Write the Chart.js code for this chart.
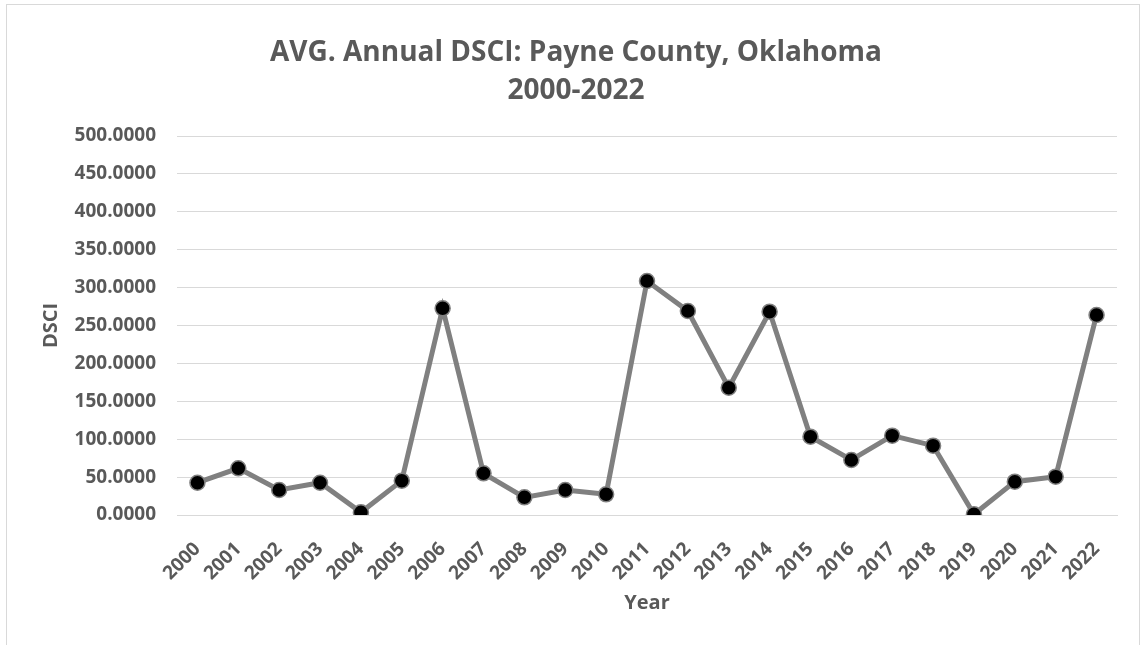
<!DOCTYPE html>
<html>
<head>
<meta charset="utf-8">
<script src="https://cdn.jsdelivr.net/npm/chart.js@4/dist/chart.umd.min.js"></script>
<style>
  html, body { margin: 0; padding: 0; background: #fff; }
  body { width: 1146px; height: 645px; position: relative; overflow: hidden; }
  #frame { position: absolute; left: 6px; top: 4px; width: 1134px; height: 700px; border: 1px solid #d9d9d9; box-sizing: border-box; }
  #wrap { position: absolute; left: 0; top: 0; width: 1146px; height: 645px; }
</style>
</head>
<body>
<div id="frame"></div>
<div id="wrap"><canvas id="c" width="1146" height="645"></canvas></div>
<script>
// Average annual Drought Severity and Coverage Index, Payne County, OK
const years = ['2000','2001','2002','2003','2004','2005','2006','2007','2008','2009','2010','2011',
               '2012','2013','2014','2015','2016','2017','2018','2019','2020','2021','2022'];
const dsci = [42.6, 61.6, 33.0, 42.6, 3.5, 45.3, 272.7, 55.0, 23.3, 33.0, 27.3, 308.7,
              269.1, 168.0, 268.2, 103.3, 72.6, 104.7, 91.5, 0.9, 44.0, 50.6, 263.9];
const titleLines = ['AVG. Annual DSCI: Payne County, Oklahoma', '2000-2022'];
const xTitle = 'Year';
const yTitle = 'DSCI';

const grey = '#595959';
const family = '"Open Sans", "Liberation Sans", sans-serif';

new Chart(document.getElementById('c'), {
  type: 'line',
  data: {
    labels: years,
    datasets: [{
      data: dsci,
      borderColor: '#808080',
      borderWidth: 5,
      pointRadius: 7.5,
      pointHoverRadius: 7.5,
      pointBackgroundColor: '#000000',
      pointBorderColor: '#808080',
      pointBorderWidth: 1.5,
      tension: 0,
      fill: false
    }]
  },
  options: {
    responsive: false,
    animation: false,
    layout: { padding: { left: 35, right: 29, top: 0, bottom: 26 } },
    plugins: {
      legend: { display: false },
      tooltip: { enabled: false },
      title: {
        display: true,
        text: titleLines,
        color: grey,
        font: { family, size: 28, weight: 'bold', lineHeight: 38 / 28 },
        padding: { top: 34, bottom: 26 }
      }
    },
    scales: {
      x: {
        offset: true,
        grid: { display: false, drawTicks: false },
        border: { display: true, color: '#d9d9d9', width: 1 },
        ticks: {
          color: grey,
          font: { family, size: 19, weight: 'bold' },
          maxRotation: 45,
          minRotation: 45,
          autoSkip: false,
          padding: 23
        },
        title: {
          display: true,
          text: xTitle,
          color: grey,
          font: { family, size: 20, weight: 'bold' },
          padding: { top: 4, bottom: 4 }
        },
        afterFit(scale) { scale.height = 645 - 26 - 515; }
      },
      y: {
        min: 0,
        max: 500,
        grid: { color: '#d9d9d9', lineWidth: 1, drawTicks: false },
        border: { display: false },
        ticks: {
          stepSize: 50,
          color: grey,
          font: { family, size: 19, weight: 'bold' },
          padding: 21,
          callback: (v) => Number(v).toFixed(4)
        },
        title: {
          display: true,
          text: yTitle,
          color: grey,
          font: { family, size: 20, weight: 'bold' },
          padding: { top: 4, bottom: 4 }
        },
        afterFit(scale) { scale.width = 177 - 35; }
      }
    }
  }
});
</script>
</body>
</html>
